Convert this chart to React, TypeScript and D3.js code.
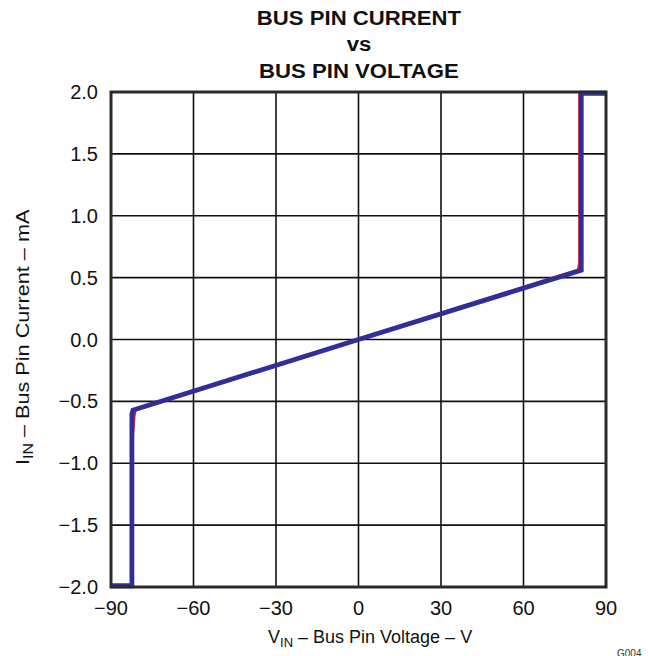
import React from "react";
import * as d3 from "d3";

const xTicks = [-90, -60, -30, 0, 30, 60, 90];
const yTicks = [-2.0, -1.5, -1.0, -0.5, 0.0, 0.5, 1.0, 1.5, 2.0];

// Red trace (underneath)
const redV = [-90, -82.4, -82.4, -81.7, -81.3, 0, 80.0, 80.5, 80.5, 90];
const redI = [-1.99, -1.99, -0.82, -0.62, -0.57, 0, 0.56, 0.62, 1.99, 1.99];
// Blue trace (on top)
const blueV = [-90, -82.4, -82.4, -82.0, 0, 81.0, 81.0, 90];
const blueI = [-1.99, -1.99, -0.6, -0.57, 0, 0.56, 1.99, 1.99];

const titleLines = ["BUS PIN CURRENT", "vs", "BUS PIN VOLTAGE"];

export default function App() {
  const W = 648, H = 656;
  const L = 111, R = 606, T = 92, B = 587;
  const x = d3.scaleLinear().domain([-90, 90]).range([L, R]);
  const y = d3.scaleLinear().domain([-2, 2]).range([B, T]);
  const line = d3.line<[number, number]>().x(d => x(d[0])).y(d => y(d[1]));
  const red = line(redV.map((v, i) => [v, redI[i]]) as [number, number][]) || "";
  const blue = line(blueV.map((v, i) => [v, blueI[i]]) as [number, number][]) || "";
  const font = "Liberation Sans, Arial, sans-serif";
  const fmtY = (v: number) => (v < 0 ? "\u2212" : "") + Math.abs(v).toFixed(1);
  const fmtX = (v: number) => (v < 0 ? "\u2212" : "") + Math.abs(v);
  return (
    <svg width={W} height={H} style={{ position: "absolute", left: 0, top: 0 }} fontFamily={font}>
      <rect width={W} height={H} fill="#fff" />
      {titleLines.map((t, i) => (
        <text key={t} x={359} y={25 + i * 26.5} textAnchor="middle" fontWeight="bold" fontSize={21} fill="#111"
          transform={`translate(359,0) scale(1.055,1) translate(-359,0)`}>{t}</text>
      ))}
      {xTicks.slice(1, -1).map(v => (
        <line key={"gx" + v} x1={x(v)} x2={x(v)} y1={T} y2={B} stroke="#111" strokeWidth={1.6} />
      ))}
      {yTicks.slice(1, -1).map(v => (
        <line key={"gy" + v} x1={L} x2={R} y1={y(v)} y2={y(v)} stroke="#111" strokeWidth={1.6} />
      ))}
      <path d={red} fill="none" stroke="#d8203c" strokeWidth={3.5} strokeLinejoin="round" />
      <path d={blue} fill="none" stroke="#2f2f9c" strokeWidth={4.8} strokeLinejoin="miter" />
      <rect x={L} y={T} width={R - L} height={B - T} fill="none" stroke="#2a2a2a" strokeWidth={3} />
      {yTicks.map(v => (
        <text key={"ty" + v} x={98} y={y(v) + 7} textAnchor="end" fontSize={20} fill="#111">{fmtY(v)}</text>
      ))}
      {xTicks.map(v => (
        <text key={"tx" + v} x={x(v)} y={615} textAnchor="middle" fontSize={20} fill="#111">{fmtX(v)}</text>
      ))}
      <text x={268} y={643} fontSize={18} fill="#111">
        V<tspan fontSize={13} dy={4}>IN</tspan><tspan dy={-4}> – Bus Pin Voltage – V</tspan>
      </text>
      <text transform={`translate(29,465) rotate(-90) scale(1.14,1)`} fontSize={19} fill="#111">
        I<tspan fontSize={14} dy={4}>IN</tspan><tspan dy={-4}> – Bus Pin Current – mA</tspan>
      </text>
      <text x={617} y={657} fontSize={10} fill="#333">G004</text>
    </svg>
  );
}
